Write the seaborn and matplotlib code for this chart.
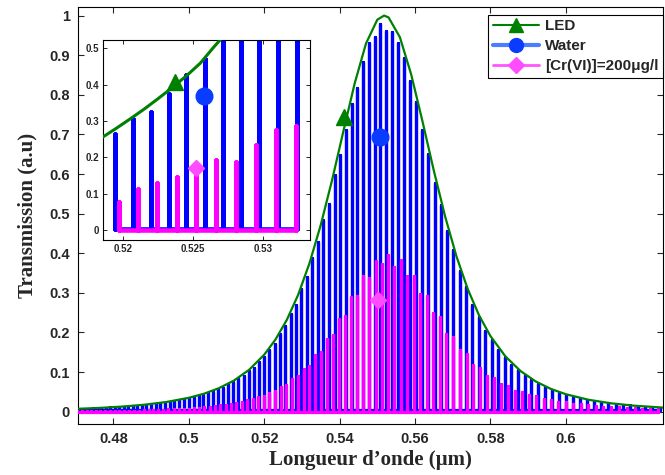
import numpy as np
import pandas as pd
import matplotlib
matplotlib.use("Agg")
import matplotlib.pyplot as plt
import seaborn as sns
from matplotlib.lines import Line2D

# ---------------- data ----------------
led_wl = [0.470, 0.476, 0.482, 0.488, 0.494, 0.500, 0.504, 0.508, 0.512, 0.516,
          0.520, 0.523, 0.526, 0.529, 0.532, 0.535, 0.538, 0.541, 0.544, 0.547,
          0.550, 0.5518, 0.553, 0.556, 0.559, 0.562, 0.565, 0.568, 0.571, 0.574,
          0.577, 0.580, 0.584, 0.588, 0.592, 0.596, 0.600, 0.606, 0.612, 0.618, 0.626]
led_T = [0.0071, 0.0094, 0.0127, 0.0174, 0.0244, 0.0351, 0.0453, 0.0594, 0.0788, 0.1058,
         0.1439, 0.1823, 0.2318, 0.2950, 0.3744, 0.4713, 0.5844, 0.7077, 0.8287, 0.9294,
         0.9896, 1.0000, 0.9953, 0.9453, 0.8512, 0.7326, 0.6085, 0.4927, 0.3923, 0.3095,
         0.2432, 0.1912, 0.1395, 0.1027, 0.0765, 0.0577, 0.0442, 0.0302, 0.0212, 0.0153, 0.0102]

water_peak_wl = [0.47101, 0.47216, 0.47330, 0.47445, 0.47561, 0.47677, 0.47794, 0.47912, 0.48030, 0.48148,
                 0.48267, 0.48387, 0.48508, 0.48628, 0.48750, 0.48872, 0.48995, 0.49118, 0.49242, 0.49367,
                 0.49492, 0.49618, 0.49745, 0.49872, 0.50000, 0.50129, 0.50258, 0.50388, 0.50518, 0.50649,
                 0.50781, 0.50914, 0.51047, 0.51181, 0.51316, 0.51451, 0.51587, 0.51724, 0.51862, 0.52000,
                 0.52139, 0.52279, 0.52419, 0.52561, 0.52703, 0.52846, 0.52989, 0.53134, 0.53279, 0.53425,
                 0.53571, 0.53719, 0.53867, 0.54017, 0.54167, 0.54318, 0.54469, 0.54622, 0.54775, 0.54930,
                 0.55085, 0.55241, 0.55398, 0.55556, 0.55714, 0.55874, 0.56035, 0.56196, 0.56358, 0.56522,
                 0.56686, 0.56851, 0.57018, 0.57185, 0.57353, 0.57522, 0.57692, 0.57864, 0.58036, 0.58209,
                 0.58383, 0.58559, 0.58735, 0.58912, 0.59091, 0.59271, 0.59451, 0.59633, 0.59816, 0.60000,
                 0.60185, 0.60372, 0.60559, 0.60748, 0.60938, 0.61129, 0.61321, 0.61514, 0.61709, 0.61905,
                 0.62102, 0.62300, 0.62500]
water_peak_T = [0.007, 0.008, 0.008, 0.009, 0.009, 0.010, 0.010, 0.011, 0.011, 0.012,
                0.013, 0.013, 0.015, 0.015, 0.017, 0.017, 0.019, 0.020, 0.022, 0.023,
                0.025, 0.027, 0.029, 0.031, 0.034, 0.037, 0.040, 0.043, 0.048, 0.051,
                0.057, 0.061, 0.069, 0.074, 0.084, 0.090, 0.102, 0.111, 0.126, 0.139,
                0.157, 0.171, 0.196, 0.216, 0.246, 0.270, 0.310, 0.339, 0.388, 0.428,
                0.484, 0.525, 0.597, 0.648, 0.712, 0.778, 0.818, 0.884, 0.931, 0.945,
                0.978, 0.962, 0.958, 0.931, 0.893, 0.836, 0.781, 0.712, 0.651, 0.578,
                0.522, 0.456, 0.409, 0.354, 0.314, 0.270, 0.239, 0.205, 0.182, 0.156,
                0.138, 0.119, 0.105, 0.092, 0.080, 0.071, 0.062, 0.055, 0.048, 0.043,
                0.038, 0.034, 0.030, 0.027, 0.024, 0.021, 0.019, 0.017, 0.016, 0.014,
                0.013, 0.011, 0.010]

cr_peak_wl = [0.47044, 0.47165, 0.47287, 0.47409, 0.47533, 0.47656, 0.47781, 0.47906, 0.48032, 0.48158,
              0.48285, 0.48413, 0.48541, 0.48670, 0.48800, 0.48931, 0.49062, 0.49194, 0.49326, 0.49459,
              0.49594, 0.49728, 0.49864, 0.50000, 0.50137, 0.50275, 0.50413, 0.50553, 0.50693, 0.50833,
              0.50975, 0.51117, 0.51261, 0.51405, 0.51549, 0.51695, 0.51841, 0.51989, 0.52137, 0.52286,
              0.52436, 0.52586, 0.52738, 0.52890, 0.53044, 0.53198, 0.53353, 0.53509, 0.53666, 0.53824,
              0.53982, 0.54142, 0.54303, 0.54464, 0.54627, 0.54790, 0.54955, 0.55121, 0.55287, 0.55455,
              0.55623, 0.55793, 0.55963, 0.56135, 0.56308, 0.56482, 0.56656, 0.56832, 0.57009, 0.57188,
              0.57367, 0.57547, 0.57729, 0.57911, 0.58095, 0.58280, 0.58467, 0.58654, 0.58842, 0.59032,
              0.59223, 0.59416, 0.59609, 0.59804, 0.60000, 0.60197, 0.60396, 0.60596, 0.60797, 0.61000,
              0.61204, 0.61409, 0.61616, 0.61824, 0.62034, 0.62245, 0.62457]
cr_peak_T = [0.001, 0.001, 0.001, 0.001, 0.002, 0.002, 0.002, 0.002, 0.002, 0.002,
             0.003, 0.003, 0.003, 0.003, 0.004, 0.004, 0.004, 0.005, 0.005, 0.006,
             0.006, 0.007, 0.008, 0.008, 0.009, 0.010, 0.012, 0.012, 0.014, 0.016,
             0.017, 0.020, 0.023, 0.024, 0.029, 0.031, 0.037, 0.040, 0.048, 0.052,
             0.063, 0.068, 0.083, 0.090, 0.109, 0.116, 0.142, 0.150, 0.184, 0.194,
             0.235, 0.241, 0.290, 0.292, 0.342, 0.338, 0.381, 0.372, 0.396, 0.366,
             0.382, 0.342, 0.343, 0.296, 0.293, 0.249, 0.239, 0.197, 0.188, 0.155,
             0.145, 0.119, 0.111, 0.091, 0.085, 0.069, 0.065, 0.053, 0.050, 0.041,
             0.039, 0.032, 0.030, 0.025, 0.024, 0.020, 0.019, 0.016, 0.015, 0.013,
             0.012, 0.011, 0.010, 0.009, 0.008, 0.007, 0.007]

# inset (zoom) data
inset_led_wl = [0.5185, 0.5195, 0.5205, 0.5215, 0.5225, 0.5235, 0.5245, 0.5255, 0.5265, 0.5275, 0.5285]
inset_led_T = [0.255, 0.280, 0.306, 0.333, 0.362, 0.392, 0.424, 0.459, 0.505, 0.548, 0.590]
inset_water_wl = [0.51941, 0.52067, 0.52196, 0.52324, 0.52450, 0.52581, 0.52710, 0.52841, 0.52971, 0.53107, 0.53239]
inset_water_T = [0.264, 0.306, 0.326, 0.374, 0.427, 0.472, 0.55, 0.60, 0.65, 0.70, 0.75]
inset_cr_wl = [0.51971, 0.52107, 0.52243, 0.52386, 0.52519, 0.52662, 0.52803, 0.52946, 0.53089, 0.53231]
inset_cr_T = [0.076, 0.113, 0.130, 0.145, 0.150, 0.193, 0.188, 0.234, 0.275, 0.286]

# series marker positions (identification symbols)
main_marker_wl = [0.5413, 0.5507, 0.5503]
main_marker_T = [0.745, 0.694, 0.282]
inset_marker_wl = [0.5237, 0.5258, 0.5252]
inset_marker_T = [0.408, 0.369, 0.170]

series_names = ["LED", "Water", "[Cr(VI)]=200μg/l"]

x_ticks = [0.48, 0.50, 0.52, 0.54, 0.56, 0.58, 0.60]
x_tick_labels = ["0.48", "0.5", "0.52", "0.54", "0.56", "0.58", "0.6"]
y_ticks = [0, 0.1, 0.2, 0.3, 0.4, 0.5, 0.6, 0.7, 0.8, 0.9, 1.0]
y_tick_labels = ["0", "0.1", "0.2", "0.3", "0.4", "0.5", "0.6", "0.7", "0.8", "0.9", "1"]
inset_x_ticks = [0.52, 0.525, 0.53]
inset_x_tick_labels = ["0.52", "0.525", "0.53"]
inset_y_ticks = [0, 0.1, 0.2, 0.3, 0.4, 0.5]
inset_y_tick_labels = ["0", "0.1", "0.2", "0.3", "0.4", "0.5"]

# ---------------- styling ----------------
sns.set_style("ticks")
plt.rcParams["font.family"] = ["Liberation Sans", "DejaVu Sans"]

GREEN = "#008000"
BLUE = "#0000ff"
MAGENTA = "#ff00ff"


def spike_frame(wl, T, base):
    xs, ys = [], []
    for c, h in zip(wl, T):
        xs += [c, c, c]
        ys += [base, h, base]
    return pd.DataFrame({"wl": xs, "T": ys})


def draw(ax, lwl, lT, wwl, wT, cwl, cT, mwl, mT, lw_spike, lw_led, ms):
    sns.lineplot(data=spike_frame(wwl, wT, 0.004), x="wl", y="T", sort=False,
                 estimator=None, color=BLUE, lw=lw_spike, ax=ax, zorder=2)
    sns.lineplot(data=spike_frame(cwl, cT, 0.0), x="wl", y="T", sort=False,
                 estimator=None, color=MAGENTA, lw=lw_spike, ax=ax, zorder=3)
    sns.lineplot(data=pd.DataFrame({"wl": lwl, "T": lT}), x="wl", y="T", sort=False,
                 estimator=None, color=GREEN, lw=lw_led, ax=ax, zorder=4)
    ax.plot(mwl[0], mT[0], marker="^", color=GREEN, ms=ms, ls="none", zorder=5)
    ax.plot(mwl[1], mT[1], marker="o", color="#0a3cff", ms=ms, ls="none", zorder=5)
    ax.plot(mwl[2], mT[2], marker="D", color="#ff4cff", ms=ms * 0.72, ls="none", zorder=5)


fig = plt.figure(figsize=(6.65, 4.75), dpi=100)
ax = fig.add_axes([0.1173, 0.1074, 0.8797, 0.8773])
draw(ax, led_wl, led_T, water_peak_wl, water_peak_T, cr_peak_wl, cr_peak_T,
     main_marker_wl, main_marker_T, 2.3, 1.6, 12)

ax.set_xlim(0.4706, 0.6258)
ax.set_ylim(-0.031, 1.021)
ax.set_xticks(x_ticks)
ax.set_xticklabels(x_tick_labels)
ax.set_yticks(y_ticks)
ax.set_yticklabels(y_tick_labels)
ax.tick_params(direction="in", length=4, width=0.8, top=True, right=True,
               labelsize=10.5, pad=6)
for lab in ax.get_xticklabels() + ax.get_yticklabels():
    lab.set_fontweight("bold")
for s in ax.spines.values():
    s.set_linewidth(0.8)
    s.set_color("black")
ax.set_xlabel("Longueur d’onde (µm)", family=["Liberation Serif", "DejaVu Serif"],
              fontweight="bold", fontsize=15, labelpad=3)
ax.set_ylabel("Transmission (a.u)", family=["Liberation Serif", "DejaVu Serif"],
              fontweight="bold", fontsize=15, labelpad=8)

handles = [
    Line2D([], [], color=GREEN, lw=1.5, marker="^", ms=10, label=series_names[0]),
    Line2D([], [], color="#4d7dff", lw=3, marker="o", mfc="#0a3cff", mec="#0a3cff", ms=10, label=series_names[1]),
    Line2D([], [], color="#ff55ff", lw=2, marker="D", mfc="#ff4cff", mec="#ff4cff", ms=8, label=series_names[2]),
]
leg = ax.legend(handles=handles, loc="upper right", bbox_to_anchor=(1.0, 0.982),
                borderaxespad=0.0, frameon=True, fancybox=False, framealpha=1,
                edgecolor="black", handlelength=3.0, handletextpad=0.4,
                labelspacing=0.38, borderpad=0.3,
                prop=dict(family="Liberation Sans", weight="bold", size=11))
leg.get_frame().set_linewidth(0.8)

# ---------------- inset ----------------
axin = fig.add_axes([0.1553, 0.4947, 0.3108, 0.4211])
axin.set_facecolor("white")
draw(axin, inset_led_wl, inset_led_T, inset_water_wl, inset_water_T, inset_cr_wl, inset_cr_T,
     inset_marker_wl, inset_marker_T, 3.3, 2.2, 12)
axin.set_xlim(0.51857, 0.53334)
axin.set_ylim(-0.0275, 0.523)
axin.set_xticks(inset_x_ticks)
axin.set_xticklabels(inset_x_tick_labels)
axin.set_yticks(inset_y_ticks)
axin.set_yticklabels(inset_y_tick_labels)
axin.tick_params(direction="in", length=3, width=0.7, top=True, right=True,
                 labelsize=7, pad=3)
for lab in axin.get_xticklabels() + axin.get_yticklabels():
    lab.set_fontweight("bold")
for s in axin.spines.values():
    s.set_linewidth(0.8)
    s.set_color("black")
axin.set_xlabel("")
axin.set_ylabel("")

fig.savefig("out.png", dpi=100)
